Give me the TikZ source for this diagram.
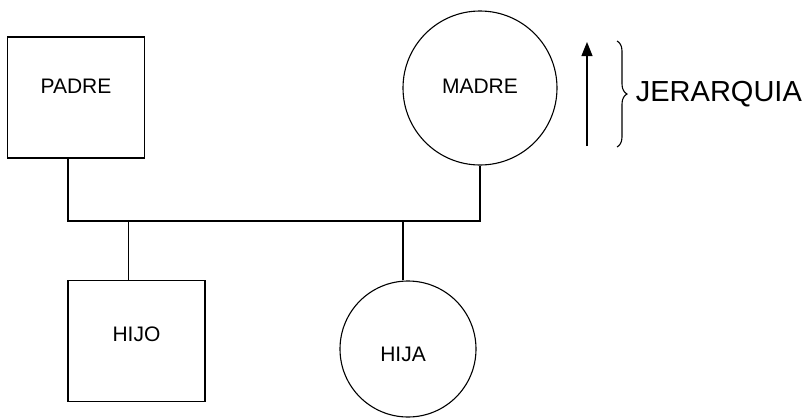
\documentclass[tikz,border=0pt]{standalone}
\usepackage{fontspec}
\setmainfont{Liberation Sans}
\usetikzlibrary{arrows,arrows.meta,decorations.pathreplacing}

\begin{document}
\begin{tikzpicture}[x=1pt,y=-1pt,line width=1.1pt,
        varon/.style={draw,minimum width=137pt,minimum height=121pt,inner sep=0pt},
        mujer/.style={draw,circle,inner sep=0pt},
        etiq/.style={font=\fontsize{21}{21}\selectfont}]
  \useasboundingbox (0,0) rectangle (809,418);

  \node[varon,label={[etiq,yshift=11pt]center:PADRE}] (padre) at (76,97.5) {};
  \node[mujer,minimum size=154pt,label={[etiq,yshift=2pt]center:MADRE}] (madre) at (480,88) {};
  \node[varon,label={[etiq,yshift=7pt]center:HIJO}] (hijo) at (136.5,341) {};
  \node[mujer,minimum size=136pt,label={[etiq,yshift=-5pt,xshift=-5pt]center:HIJA}] (hija) at (408,349) {};

  \coordinate (enlace) at (274,221);
  \path[draw] ([xshift=-8pt]padre.south) |- (enlace) -| (madre.south);
  \path[draw] ([xshift=-8pt]hijo.north) |- (enlace);
  \path[draw] ([xshift=-5pt]hija.north) |- (enlace);

  \coordinate (bajo) at (587,146);
  \coordinate (alto) at (587,42);
  \draw[-{Triangle[length=14pt,width=11pt]}] (bajo) -- (alto);

  \coordinate (llave1) at (617,41);
  \coordinate (llave2) at (617,147);
  \draw[decorate,decoration={brace,amplitude=10pt}] (llave1) -- (llave2);
  \node[anchor=west,font=\fontsize{29}{29}\selectfont] (jerarquia) at (632,94) {JERARQUIA};
\end{tikzpicture}
\end{document}
